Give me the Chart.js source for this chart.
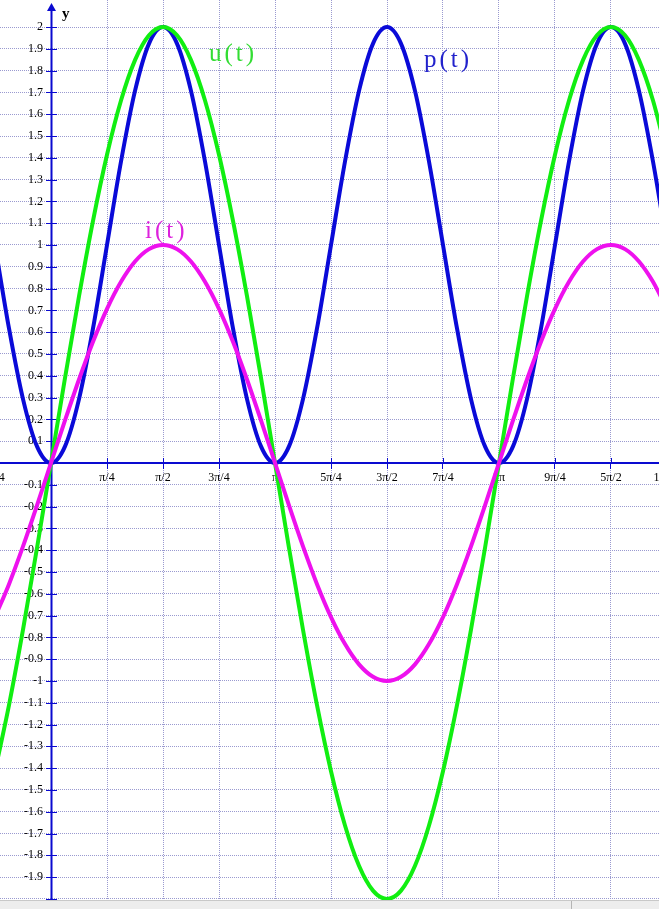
<!DOCTYPE html>
<html><head><meta charset="utf-8">
<script src="https://cdn.jsdelivr.net/npm/chart.js@4.4.1/dist/chart.umd.min.js"></script>
<style>
html,body{margin:0;padding:0;background:#fff;width:659px;height:909px;overflow:hidden}
#wrap{position:relative;width:659px;height:900px}
#bar{position:absolute;left:0;top:900px;width:659px;height:9px;background:#ededed;border-top:1px solid #c8c8c8;box-sizing:border-box}
#bar .sep{position:absolute;left:571px;top:0;width:1px;height:9px;background:#b4b4b4}
</style></head><body>
<div id="wrap"><canvas id="c" width="659" height="900"></canvas></div>
<div id="bar"><div class="sep"></div></div>
<script>
// t in units of π (sampled every π/16)
const tPi = [-0.25,-0.1875,-0.125,-0.0625,0,0.0625,0.125,0.1875,0.25,0.3125,0.375,0.4375,0.5,0.5625,0.625,0.6875,0.75,0.8125,0.875,0.9375,1,1.0625,1.125,1.1875,1.25,1.3125,1.375,1.4375,1.5,1.5625,1.625,1.6875,1.75,1.8125,1.875,1.9375,2,2.0625,2.125,2.1875,2.25,2.3125,2.375,2.4375,2.5,2.5625,2.625,2.6875,2.75];
const iVals = [-0.707,-0.556,-0.383,-0.195,0,0.195,0.383,0.556,0.707,0.831,0.924,0.981,1,0.981,0.924,0.831,0.707,0.556,0.383,0.195,0,-0.195,-0.383,-0.556,-0.707,-0.831,-0.924,-0.981,-1,-0.981,-0.924,-0.831,-0.707,-0.556,-0.383,-0.195,0,0.195,0.383,0.556,0.707,0.831,0.924,0.981,1,0.981,0.924,0.831,0.707];
const uVals = [-1.414,-1.111,-0.765,-0.39,0,0.39,0.765,1.111,1.414,1.663,1.848,1.962,2,1.962,1.848,1.663,1.414,1.111,0.765,0.39,0,-0.39,-0.765,-1.111,-1.414,-1.663,-1.848,-1.962,-2,-1.962,-1.848,-1.663,-1.414,-1.111,-0.765,-0.39,0,0.39,0.765,1.111,1.414,1.663,1.848,1.962,2,1.962,1.848,1.663,1.414];
const pVals = [1,0.617,0.293,0.076,0,0.076,0.293,0.617,1,1.383,1.707,1.924,2,1.924,1.707,1.383,1,0.617,0.293,0.076,0,0.076,0.293,0.617,1,1.383,1.707,1.924,2,1.924,1.707,1.383,1,0.617,0.293,0.076,0,0.076,0.293,0.617,1,1.383,1.707,1.924,2,1.924,1.707,1.383,1];

const xTickValues = [-0.25,0.25,0.5,0.75,1,1.25,1.5,1.75,2,2.25,2.5,2.75];
const xTickLabels = ['-π/4','π/4','π/2','3π/4','π','5π/4','3π/2','7π/4','2π','9π/4','5π/2','11π/4'];
const yTickValues = [-2,-1.9,-1.8,-1.7,-1.6,-1.5,-1.4,-1.3,-1.2,-1.1,-1,-0.9,-0.8,-0.7,-0.6,-0.5,-0.4,-0.3,-0.2,-0.1,0,0.1,0.2,0.3,0.4,0.5,0.6,0.7,0.8,0.9,1,1.1,1.2,1.3,1.4,1.5,1.6,1.7,1.8,1.9,2];
const yTickLabels = ['','-1.9','-1.8','-1.7','-1.6','-1.5','-1.4','-1.3','-1.2','-1.1','-1','-0.9','-0.8','-0.7','-0.6','-0.5','-0.4','-0.3','-0.2','-0.1','','0.1','0.2','0.3','0.4','0.5','0.6','0.7','0.8','0.9','1','1.1','1.2','1.3','1.4','1.5','1.6','1.7','1.8','1.9','2'];
const seriesNames = ['i(t)','u(t)','p(t)'];
// curve name labels: anchor in data coordinates (x in π units, y value)
const nameAnchors = [[0.42,1.03],[0.705,1.845],[1.665,1.815]];

const AXIS = '#0a0ad0';
const GRID = '#9a9ad0';
const colors = ['#ee11ee','#11ee11','#0a0ad8'];
const nameColors = ['#dd22dd','#33dd33','#2222cc'];
const Y_LABEL_SHIFT = -0.0357; // y-axis labels sit ~8px left of the axis line

const mk = (vals) => tPi.map((x, k) => ({x: x, y: vals[k]}));
const zeroFit = (s) => { if (s.isHorizontal()) s.height = 0; else s.width = 0; s.paddingLeft = s.paddingRight = s.paddingTop = s.paddingBottom = 0; };

const axesExtra = {
  id: 'axesExtra',
  beforeDatasetsDraw(chart) {
    const ctx = chart.ctx, xs = chart.scales.x, ys = chart.scales.y, area = chart.chartArea;
    const x0 = Math.round(xs.getPixelForValue(0)), y0 = Math.round(ys.getPixelForValue(0));
    ctx.save();
    ctx.strokeStyle = AXIS; ctx.lineWidth = 1;
    // upper halves of x tick marks (library draws the lower half)
    xTickValues.forEach(v => { const px = Math.round(xs.getPixelForValue(v)) + 0.5; ctx.beginPath(); ctx.moveTo(px, y0 - 5); ctx.lineTo(px, y0); ctx.stroke(); });
    // y tick marks crossing the axis
    yTickValues.forEach(v => { if (v === 0) return; const py = Math.round(ys.getPixelForValue(v)) + 0.5; ctx.beginPath(); ctx.moveTo(x0 - 5, py); ctx.lineTo(x0 + 6, py); ctx.stroke(); });
    // y axis line
    ctx.lineWidth = 2;
    ctx.beginPath(); ctx.moveTo(x0 + 0.5, 8); ctx.lineTo(x0 + 0.5, area.bottom); ctx.stroke();
    // arrow on y axis
    ctx.fillStyle = AXIS;
    ctx.beginPath(); ctx.moveTo(x0 + 0.5, 3); ctx.lineTo(x0 - 4, 11); ctx.lineTo(x0 + 5, 11); ctx.closePath(); ctx.fill();
    // axis title
    ctx.fillStyle = '#000'; ctx.font = 'bold 15px "Liberation Serif"'; ctx.textBaseline = 'alphabetic';
    ctx.fillText('y', x0 + 11, 18);
    ctx.restore();
  },
  afterDatasetsDraw(chart) {
    const ctx = chart.ctx, xs = chart.scales.x, ys = chart.scales.y;
    ctx.save();
    ctx.font = '25px "Liberation Serif"';
    ctx.textBaseline = 'alphabetic';
    try { ctx.letterSpacing = '3px'; } catch (e) {}
    seriesNames.forEach((n, k) => {
      ctx.fillStyle = nameColors[k];
      ctx.fillText(n, xs.getPixelForValue(nameAnchors[k][0]), ys.getPixelForValue(nameAnchors[k][1]));
    });
    ctx.restore();
  }
};

new Chart(document.getElementById('c'), {
  type: 'line',
  data: {
    datasets: [
      {label: seriesNames[0], data: mk(iVals), borderColor: colors[0]},
      {label: seriesNames[1], data: mk(uVals), borderColor: colors[1]},
      {label: seriesNames[2], data: mk(pVals), borderColor: colors[2]}
    ]
  },
  options: {
    responsive: false, animation: false, devicePixelRatio: 1,
    layout: {padding: 0, autoPadding: false},
    elements: {point: {radius: 0}, line: {borderWidth: 4, cubicInterpolationMode: 'monotone', fill: false}},
    plugins: {legend: {display: false}, tooltip: {enabled: false}},
    scales: {
      x: {
        type: 'linear', position: {y: 0}, min: -0.2277, max: 2.7143,
        afterBuildTicks: s => { s.ticks = xTickValues.map(v => ({value: v})); },
        afterFit: zeroFit,
        ticks: {autoSkip: false, maxRotation: 0, padding: 3, color: '#000', font: {family: '"Liberation Serif"', size: 12},
          callback: (v) => { const k = xTickValues.indexOf(v); return k >= 0 ? xTickLabels[k] : ''; }},
        grid: {color: GRID, lineWidth: 1, tickLength: 5, tickColor: AXIS, tickBorderDash: []},
        border: {display: true, color: AXIS, width: 2, dash: [1, 1]}
      },
      y: {
        type: 'linear', position: {x: Y_LABEL_SHIFT}, min: -2.005, max: 2.124,
        afterBuildTicks: s => { s.ticks = yTickValues.map(v => ({value: v})); },
        afterFit: zeroFit,
        ticks: {autoSkip: false, padding: 0, color: '#000', font: {family: '"Liberation Serif"', size: 12},
          callback: (v) => { const k = yTickValues.indexOf(v); return k >= 0 ? yTickLabels[k] : ''; }},
        grid: {color: GRID, lineWidth: 1, drawTicks: false},
        border: {display: false, dash: [1, 1]}
      }
    }
  },
  plugins: [axesExtra]
});
</script>
</body></html>
